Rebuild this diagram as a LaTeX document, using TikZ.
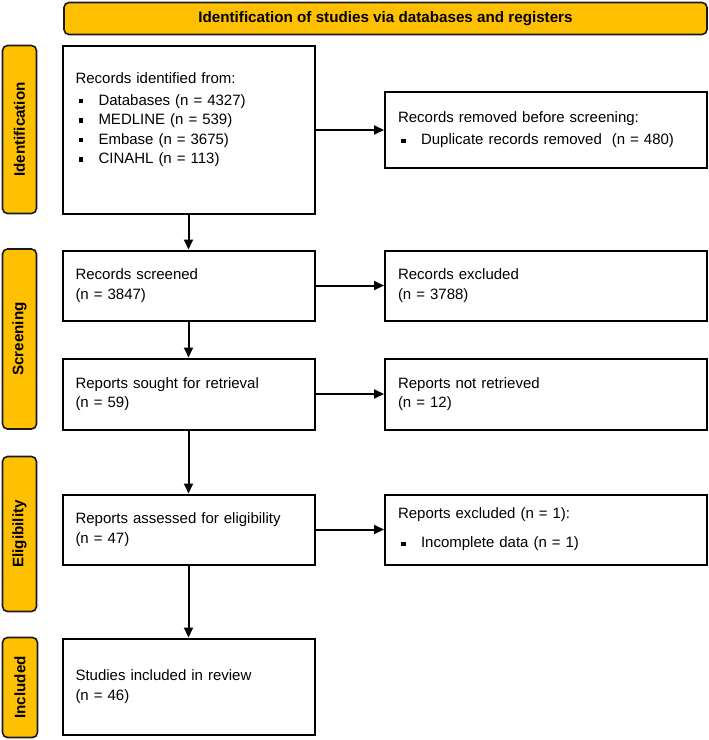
\documentclass[tikz,border=0pt]{standalone}
\usepackage{fontspec}
\setmainfont{Liberation Sans}
\usetikzlibrary{arrows.meta}
\definecolor{prisma}{HTML}{FFC000}
\newcommand{\bul}{\makebox[23pt][l]{\hspace{3pt}\rule[1.7pt]{4.5pt}{4.5pt}}}
\begin{document}
\begin{tikzpicture}[x=1pt,y=-1pt,
  box/.style={draw=black, line width=2pt, fill=white, inner xsep=13pt, inner ysep=0pt,
    align=left, font=\fontsize{15}{19.5}\selectfont},
  lbox/.style={box, text width=226pt, minimum width=252pt},
  rbox/.style={box, text width=296pt, minimum width=322pt},
  bar/.style={draw=black!90, line width=1.6pt, fill=prisma, rounded corners=5pt,
    inner sep=0pt, font=\fontsize{15.2}{18}\selectfont\bfseries},
  arr/.style={line width=2pt, -{Triangle[length=10pt,width=9pt]}}]
\useasboundingbox (0,0) rectangle (709,740);

% banner and side bars
\node[bar, minimum width=643pt, minimum height=32pt] (banner) at (385.5,18.5)
  {Identification of studies via databases and registers};
\node[bar, rotate=90, minimum width=168pt, minimum height=34pt] (idbar) at (19.5,129.5) {Identification};
\node[bar, rotate=90, minimum width=180pt, minimum height=34pt] (scbar) at (19.5,339) {Screening};
\node[bar, rotate=90, minimum width=155pt, minimum height=34pt] (elbar) at (19.5,534) {Eligibility};
\node[bar, rotate=90, minimum width=100pt, minimum height=35pt] (inbar) at (20,687.5) {Included};

% left column
\node[lbox, minimum height=168pt] (ident) at (188.5,129.5)
  {Records identified from:\\[2.5pt]
   \bul Databases (n = 4327)\\
   \bul MEDLINE (n = 539)\\
   \bul Embase (n = 3675)\\
   \bul CINAHL (n = 113)\\[3.5pt]\mbox{}};
\node[lbox, minimum height=70pt] (screened) at (188.5,285.5)
  {Records screened\\(n = 3847)};
\node[lbox, minimum height=71pt] (sought) at (188.5,394)
  {Reports sought for retrieval\\(n = 59)};
\node[lbox, minimum height=70pt] (assessed) at (188.5,529.5)
  {Reports assessed for eligibility\\(n = 47)};
\node[lbox, minimum height=96pt] (included) at (188.5,686.5)
  {Studies included in review\\(n = 46)};

% right column
\node[rbox, minimum height=76pt] (removed) at (546,130)
  {Records removed before screening:\\[2.5pt]
   \bul Duplicate records removed~ (n = 480)};
\node[rbox, minimum height=70pt] (excluded) at (546,285.5)
  {Records excluded\\(n = 3788)};
\node[rbox, minimum height=71pt] (notret) at (546,394)
  {Reports not retrieved\\(n = 12)};
\node[rbox, minimum height=70pt] (repexcl) at (546,529.5)
  {Reports excluded (n = 1):\\[9.5pt]
   \bul Incomplete data (n = 1)};

% connectors
\draw[arr] (ident.south) -- (screened.north);
\draw[arr] (screened.south) -- (sought.north);
\draw[arr] (sought.south) -- (assessed.north);
\draw[arr] (assessed.south) -- (included.north);
\draw[arr] (ident.east |- removed.west) -- (removed.west);
\draw[arr] (screened.east) -- (excluded.west);
\draw[arr] (sought.east) -- (notret.west);
\draw[arr] (assessed.east) -- (repexcl.west);
\end{tikzpicture}
\end{document}
